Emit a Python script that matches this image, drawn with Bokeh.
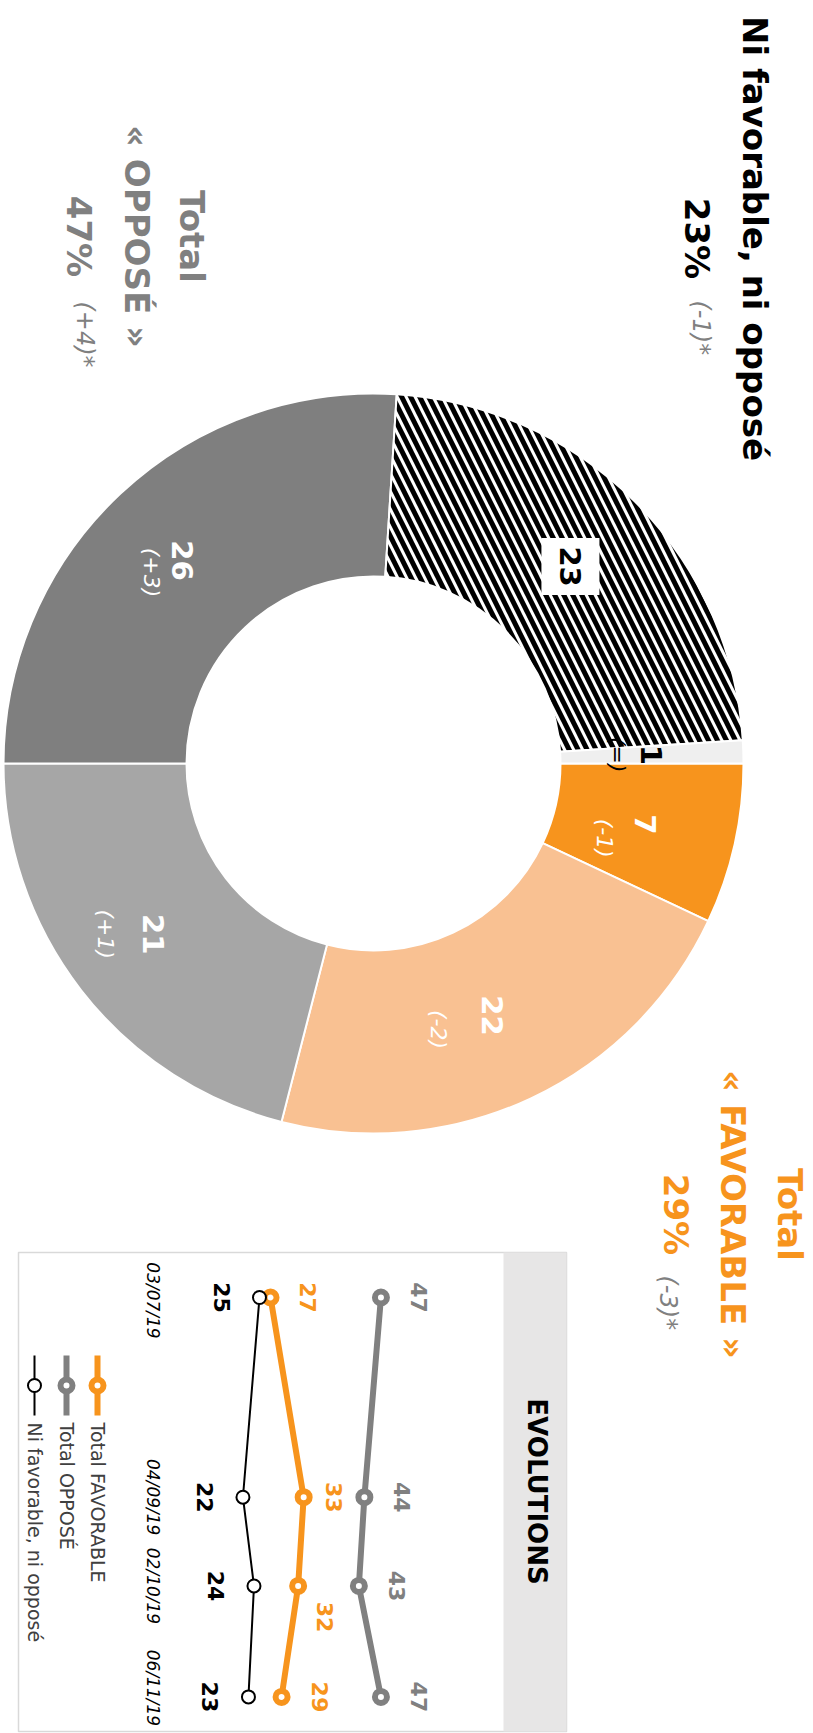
import numpy as np
from bokeh.plotting import figure
from bokeh.models import Range1d, ColumnDataSource
from bokeh.embed import file_html
from bokeh.resources import INLINE
from bokeh.core.properties import value

# ---------------- data ----------------
slice_names = ["Très favorable", "Plutôt favorable", "Plutôt opposé",
               "Très opposé", "Ni favorable, ni opposé", "Ne se prononce pas"]
slice_values = [7, 22, 21, 26, 23, 1]
slice_changes = ["(-1)", "(-2)", "(+1)", "(+3)", "", "(=)"]

total_labels = ["Total", "« FAVORABLE »", "« OPPOSÉ »", "Ni favorable, ni opposé"]
total_fav, total_fav_change = 29, "(-3)*"
total_opp, total_opp_change = 47, "(+4)*"
total_ni, total_ni_change = 23, "(-1)*"

evo_dates = ["2019-07-03", "2019-09-04", "2019-10-02", "2019-11-06"]
evo_date_labels = ["03/07/19", "04/09/19", "02/10/19", "06/11/19"]
evo_fav = [27, 33, 32, 29]
evo_opp = [47, 44, 43, 47]
evo_ni = [25, 22, 24, 23]
legend_labels = ["Total FAVORABLE", "Total OPPOSÉ", "Ni favorable, ni opposé"]

# ---------------- styles / layout ----------------
W, H = 813, 1733
ORANGE = "#F7941D"
GREY = "#808080"
slice_colors = ["#F7941D", "#F9C192", "#A6A6A6", "#7F7F7F", "white", "#EFEFEF"]
slice_hatch = [" ", " ", " ", " ", "\\", " "]
num_colors = ["white", "white", "white", "white", "black", "black"]
chg_colors = ["white", "white", "white", "white", "black", "black"]
chg_dx = [-41, -54, -48, -31, 0, -34]
chg_dy = [14, 14, 0, 12, 0, 0]
FONT = value("DejaVu Sans")


def Y(img_y):
    return H - img_y


p = figure(width=W, height=H, x_range=Range1d(0, W), y_range=Range1d(0, H),
           output_backend="svg", toolbar_location=None, min_border=0,
           x_axis_location=None, y_axis_location=None,
           outline_line_color=None, background_fill_color="white",
           border_fill_color="white")
p.grid.visible = False

# ---------------- donut ----------------
CX, CY = 373, Y(763)
R_IN, R_OUT = 187, 370
vals = np.array(slice_values, dtype=float)
cum = np.concatenate([[0.0], np.cumsum(vals)])
start = -2 * np.pi * cum[:-1] / cum[-1]
end = -2 * np.pi * cum[1:] / cum[-1]
mid = (start + end) / 2
src = ColumnDataSource(dict(start=start, end=end, color=slice_colors,
                            hatch=slice_hatch, name=slice_names))
p.annular_wedge(x=CX, y=CY, inner_radius=R_IN, outer_radius=R_OUT,
                start_angle="start", end_angle="end", direction="clock",
                fill_color="color", line_color="white", line_width=2,
                hatch_pattern="hatch", hatch_color="black", hatch_weight=5,
                hatch_scale=18, source=src)

rm = (R_IN + R_OUT) / 2
lx = CX + rm * np.cos(mid)
ly = CY + rm * np.sin(mid)

# white box behind the hatched slice label
hidx = [i for i, h in enumerate(slice_hatch) if h != " "]
p.rect(x=lx[hidx], y=ly[hidx], width=58, height=57, fill_color="white",
       line_color=None)

p.text(x=lx, y=ly, text=[str(v) for v in slice_values], angle=-np.pi / 2,
       text_align="center", text_baseline="middle", text_font=FONT,
       text_font_style="bold", text_font_size="29px", text_color=num_colors)
p.text(x=lx + np.array(chg_dx), y=ly - np.array(chg_dy), text=slice_changes,
       angle=-np.pi / 2, text_align="center", text_baseline="middle",
       text_font=FONT, text_font_style="italic", text_font_size="22px",
       text_color=chg_colors)

# ---------------- big labels ----------------
def big(x, yimg, txt, color, size="34px", style="bold", align="center"):
    p.text(x=[x], y=[Y(yimg)], text=[txt], angle=-np.pi / 2, text_align=align,
           text_baseline="middle", text_font=FONT, text_font_style=style,
           text_font_size=size, text_color=color)


# Ni favorable, ni opposé
big(754, 238, total_labels[3], "black")
big(696, 238, f"{total_ni}%", "black")
big(700, 300, total_ni_change, GREY, size="24px", style="italic", align="left")
# Total OPPOSÉ
big(191, 236, total_labels[0], GREY)
big(136, 236, total_labels[2], GREY)
big(78, 236, f"{total_opp}%", GREY)
big(84, 301, total_opp_change, GREY, size="24px", style="italic", align="left")
# Total FAVORABLE
big(789, 1214, total_labels[0], ORANGE)
big(732, 1214, total_labels[1], ORANGE)
big(675, 1214, f"{total_fav}%", ORANGE)
big(667, 1275, total_fav_change, GREY, size="24px", style="italic", align="left")

# ---------------- evolution box ----------------
BOX_L, BOX_R, HEAD_L = 18, 566, 503
BOX_T, BOX_B = 1252, 1731
p.quad(left=[BOX_L], right=[BOX_R], top=[Y(BOX_T)], bottom=[Y(BOX_B)],
       fill_color="white", line_color="#D9D9D9", line_width=1.5)
p.quad(left=[HEAD_L], right=[BOX_R], top=[Y(BOX_T)], bottom=[Y(BOX_B)],
       fill_color="#E7E6E6", line_color=None)
big(536, 1491, "EVOLUTIONS", "black", size="26px")

# value / date scales for the rotated line chart
VAL0_PX, VAL_PX = 121.0, 5.52
D0_PX, DAY_PX = 1297.0, 3.17
DAY_MS = 86400000.0
date_ms = np.array(evo_dates, dtype="datetime64[ms]").astype("int64").astype(float)
d0 = date_ms[0]
p.extra_x_ranges = {"val": Range1d(start=-VAL0_PX / VAL_PX,
                                   end=(W - VAL0_PX) / VAL_PX)}
p.extra_y_ranges = {"date": Range1d(start=d0 + (H - D0_PX) / DAY_PX * DAY_MS,
                                    end=d0 - D0_PX / DAY_PX * DAY_MS)}

series = [
    (evo_opp, GREY, 6, 12, 6, [38] * 4, [0, 0, 0, 0]),
    (evo_fav, ORANGE, 6, 12, 6, [37, 30, 27, 38], [0, 0, 31, 0]),
    (evo_ni, "black", 2, 13, 2, [-38] * 4, [0, 0, 0, 0]),
]
for vals_s, col, lw, msize, mlw, dx, dy in series:
    s = ColumnDataSource(dict(v=vals_s, d=date_ms, t=[str(v) for v in vals_s],
                              dx=dx, dy=dy))
    p.line(x="v", y="d", source=s, x_range_name="val", y_range_name="date",
           line_color=col, line_width=lw)
    p.scatter(x="v", y="d", source=s, x_range_name="val", y_range_name="date",
              size=msize, fill_color="white", line_color=col, line_width=mlw)
    p.text(x="v", y="d", text="t", source=s, x_range_name="val",
           y_range_name="date", x_offset="dx", y_offset="dy", angle=-np.pi / 2,
           text_align="center", text_baseline="middle", text_font=FONT,
           text_font_style="bold", text_font_size="22px", text_color=col)

# date labels
dsrc = ColumnDataSource(dict(x=[152] * 4, d=date_ms, t=evo_date_labels,
                             dy=[3, 0, 0, -9]))
p.text(x="x", y="d", text="t", source=dsrc, y_range_name="date",
       y_offset="dy", angle=-np.pi / 2, text_align="center",
       text_baseline="middle", text_font=FONT, text_font_style="italic",
       text_font_size="17px", text_color="black")

# legend (rotated, drawn by hand)
leg_x = [97, 66, 34]
leg_col = [ORANGE, GREY, "black"]
leg_lw = [6, 6, 2]
leg_ms = [12, 12, 13]
for x, c, lw, ms, lab in zip(leg_x, leg_col, leg_lw, leg_ms, legend_labels):
    p.line(x=[x, x], y=[Y(1355), Y(1415)], line_color=c, line_width=lw)
    p.scatter(x=[x], y=[Y(1385)], size=ms, fill_color="white", line_color=c,
              line_width=lw)
    p.text(x=[x], y=[Y(1422)], text=[lab], angle=-np.pi / 2, text_align="left",
           text_baseline="middle", text_font=FONT, text_font_size="19px",
           text_color="#404040")

open("out.html", "w").write(file_html(p, INLINE))
